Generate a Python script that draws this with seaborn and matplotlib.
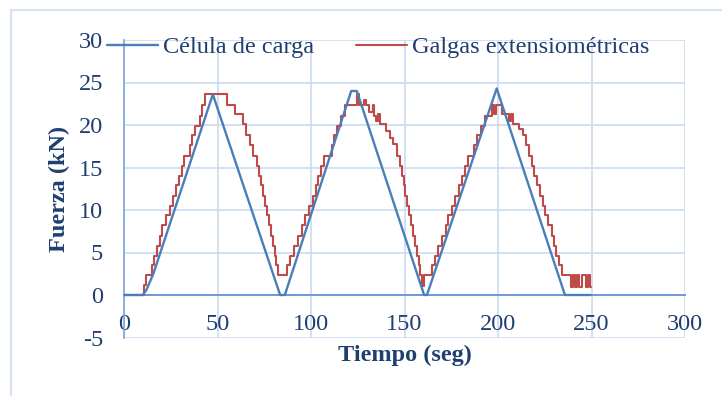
import matplotlib
matplotlib.use("Agg")
import matplotlib.pyplot as plt
import seaborn as sns
import pandas as pd
from matplotlib.patches import Rectangle

# ---- data ----
celula_t = [0, 10, 12, 15.7, 47.5, 83.5, 86, 121.5, 124.5, 160.5, 162, 199.3, 235.8, 249.5]
celula_f = [0, 0, 0.6, 2.5, 23.6, 0, 0, 24.0, 24.0, 0, 0, 24.3, 0, 0]

galgas_t = [0, 10.5, 12, 15, 16, 17.5, 19, 20.5, 22.5, 24.5, 26, 28, 29.5, 31, 32, 35.5, 36.5, 38,
            40.5, 41.5, 43.5,
            55, 59.5, 63.5, 65.5, 67.5, 69, 71, 72, 73, 74.5, 75.5, 76.5, 77.5, 78.5, 79.5, 80.5,
            81.5, 82.5,
            87, 89, 91, 93, 95, 97, 99, 101, 102.5, 104, 105.5, 107, 111, 112.5, 114, 116, 118,
            124.5, 125.5, 128.5, 129.5, 131, 133, 133.5, 135, 136, 137, 140, 142, 144, 146, 147.5,
            148.5, 149.5, 150.5, 151.5, 152.5, 153.5, 154.5, 155.5, 156.5, 157.5, 158.5, 159.5,
            160.5,
            164.5, 166.5, 168, 170, 172, 173.5, 175.5, 177, 179, 181, 182.5, 184, 187, 189, 191,
            193, 197, 198, 199, 202, 206, 207, 208, 211, 213.5, 215, 216.5, 218, 219.5, 221, 222.5,
            224, 225, 227, 229, 230, 231, 232.5, 234,
            239, 240, 241, 242.5, 243.5, 245, 247, 248, 249, 249.5]
galgas_f = [0, 1.2, 2.3, 3.5, 4.6, 5.8, 7.0, 8.2, 9.4, 10.5, 11.7, 12.9, 14.0, 15.2, 16.4, 17.6, 18.8, 19.9,
            21.1, 22.3, 23.6,
            22.4, 21.3, 20.1, 18.8, 17.6, 16.4, 15.2, 14.0, 12.9, 11.7, 10.5, 9.4, 8.2, 7.0, 5.8, 4.6,
            3.5, 2.3,
            3.5, 4.6, 5.8, 7.0, 8.2, 9.4, 10.5, 11.7, 12.9, 14.0, 15.2, 16.4, 17.6, 18.8, 19.9, 21.1, 22.3,
            23.7, 22.3, 23.0, 22.3, 21.5, 22.3, 21.1, 20.5, 21.3, 20.1, 19.3, 18.5, 17.8, 16.4, 15.2,
            14.0, 12.9, 11.7, 10.5, 9.4, 8.2, 7.0, 5.8, 4.6, 3.5, 2.3, 1.1,
            2.3,
            3.5, 4.6, 5.8, 7.0, 8.2, 9.4, 10.5, 11.7, 12.9, 14.0, 15.2, 16.4, 17.6, 18.8, 19.9,
            21.1, 22.3, 21.3, 22.3, 21.3, 20.5, 21.3, 20.1, 19.5, 18.8, 17.6, 16.4, 15.2, 14.0, 12.9, 11.7,
            10.5, 9.4, 8.2, 7.0, 5.8, 4.6, 3.5, 2.3,
            1.0, 2.3, 1.0, 2.3, 1.0, 2.3, 1.0, 2.3, 1.0, 1.0]

x_ticks = [0, 50, 100, 150, 200, 250, 300]
y_ticks = [-5, 0, 5, 10, 15, 20, 25, 30]

label_celula = "Célula de carga"
label_galgas = "Galgas extensiométricas"
x_title = "Tiempo (seg)"
y_title = "Fuerza (kN)"

# ---- style ----
sns.set_style("white")
plt.rcParams["font.family"] = ["Liberation Serif", "DejaVu Serif"]
TEXT = "#1F3F70"
BLUE = "#4A7EBB"
RED = "#BE4B48"
GRID = "#CCDCF0"
FS = 17.5

fig = plt.figure(figsize=(7.22, 3.96), dpi=100)
W, H = 722, 396
fig.patches.append(Rectangle((11 / W, -0.1), 1.2, 1 - 10 / H + 0.1, transform=fig.transFigure,
                             fill=False, edgecolor="#D5E2F3", linewidth=1.5))

ax = fig.add_axes([124 / W, 1 - 337.5 / H, (685 - 124) / W, (337.5 - 40) / H])

df_c = pd.DataFrame({"t": celula_t, "f": celula_f})
df_g = pd.DataFrame({"t": galgas_t, "f": galgas_f})

sns.lineplot(data=df_c, x="t", y="f", ax=ax, color=BLUE, linewidth=1.7,
             estimator=None, sort=False, label=label_celula, zorder=4)
sns.lineplot(data=df_g, x="t", y="f", ax=ax, color=RED, linewidth=1.5,
             estimator=None, sort=False, drawstyle="steps-post", label=label_galgas, zorder=3)

ax.set_xlim(0, 300)
ax.set_ylim(-5, 30)
ax.set_xticks(x_ticks)
ax.set_yticks(y_ticks)
ax.set_xticklabels([str(v) for v in x_ticks])
ax.set_yticklabels([str(v) for v in y_ticks])
ax.grid(True, color=GRID, linewidth=1.2)
ax.set_axisbelow(True)

for s in ["top", "right"]:
    ax.spines[s].set_visible(False)
ax.spines["left"].set_color("#7DA3D8")
ax.spines["left"].set_linewidth(1.2)
ax.spines["bottom"].set_position(("data", 0))
ax.spines["bottom"].set_color("#6F9AD6")
ax.spines["bottom"].set_linewidth(1.4)

ax.tick_params(axis="both", length=0, labelsize=FS, labelcolor=TEXT)
ax.tick_params(axis="y", pad=15)
ax.tick_params(axis="x", pad=14)

ax.set_xlabel(x_title, fontsize=FS, fontweight="bold", color=TEXT)
ax.set_ylabel(y_title, fontsize=FS, fontweight="bold", color=TEXT)
ax.xaxis.set_label_coords(0.5, -0.025)
ax.yaxis.set_label_coords(-0.096, 0.5)

leg = ax.legend(loc="center left", bbox_to_anchor=(107 / W, 1 - 47 / H), bbox_transform=fig.transFigure,
                ncol=2, frameon=False, fontsize=FS, handlelength=2.1, handletextpad=0.2,
                columnspacing=1.73, borderaxespad=0, borderpad=0)
for t in leg.get_texts():
    t.set_color(TEXT)

fig.savefig("out.png", dpi=100)
